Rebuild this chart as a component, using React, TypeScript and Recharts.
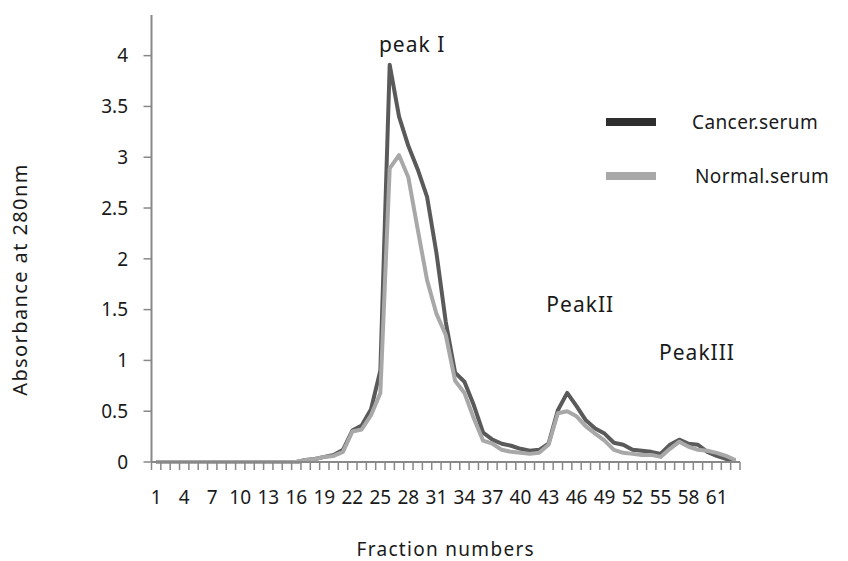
import React from 'react';
import { LineChart, Line, XAxis, YAxis, Legend, ReferenceDot, Label } from 'recharts';

// fraction numbers 1..63
const fractions = Array.from({ length: 63 }, (_, i) => i + 1);

// absorbance at 280nm
const cancerSerum = [
  0, 0, 0, 0, 0, 0, 0, 0, 0, 0,
  0, 0, 0, 0, 0, 0, 0.02, 0.03, 0.05, 0.07,
  0.12, 0.31, 0.36, 0.52, 0.9, 3.91, 3.4, 3.11, 2.88, 2.61,
  2.06, 1.38, 0.88, 0.79, 0.56, 0.29, 0.22, 0.18, 0.16, 0.13,
  0.11, 0.12, 0.18, 0.51, 0.68, 0.55, 0.41, 0.33, 0.28, 0.19,
  0.17, 0.12, 0.11, 0.1, 0.08, 0.17, 0.22, 0.18, 0.17, 0.1,
  0.06, 0.03, 0.01,
];

const normalSerum = [
  0, 0, 0, 0, 0, 0, 0, 0, 0, 0,
  0, 0, 0, 0, 0, 0, 0.02, 0.03, 0.05, 0.06,
  0.1, 0.3, 0.32, 0.46, 0.68, 2.89, 3.02, 2.8, 2.29, 1.79,
  1.46, 1.25, 0.8, 0.68, 0.43, 0.21, 0.18, 0.12, 0.1, 0.09,
  0.08, 0.09, 0.17, 0.48, 0.5, 0.45, 0.35, 0.28, 0.21, 0.12,
  0.09, 0.08, 0.07, 0.07, 0.05, 0.13, 0.2, 0.15, 0.12, 0.11,
  0.09, 0.06, 0.02,
];

// tick marks sit between categories, labels every 3rd fraction
const xBoundaryTicks = Array.from({ length: 64 }, (_, i) => i + 0.5);
const xLabelEvery = 3;
const yTicks = [0, 0.5, 1, 1.5, 2, 2.5, 3, 3.5, 4];

const peaks = [
  { name: 'peak I', x: 28.4, y: 4.11 },
  { name: 'PeakII', x: 46.4, y: 1.55 },
  { name: 'PeakIII', x: 58.9, y: 1.08 },
];

const series = [
  { key: 'cancer', name: 'Cancer.serum', color: '#5a5a5a', swatch: '#2e2e2e' },
  { key: 'normal', name: 'Normal.serum', color: '#a8a8a8', swatch: '#a8a8a8' },
];

const data = fractions.map((f, i) => ({
  fraction: f,
  cancer: cancerSerum[i],
  normal: normalSerum[i],
}));

const FONT = "'Noto Sans', sans-serif";
const AXIS = '#888888';
const TEXT = '#1a1a1a';

const renderLegend = () => (
  <div style={{ fontFamily: FONT }}>
    {series.map((s) => (
      <div key={s.key} style={{ display: 'flex', alignItems: 'center', height: 54 }}>
        <div style={{ width: 50, height: 8, background: s.swatch }} />
        <span style={{ marginLeft: s.key === 'cancer' ? 36 : 39, fontSize: 19, color: TEXT, letterSpacing: 0.4 }}>{s.name}</span>
      </div>
    ))}
  </div>
);

// label goes in the middle of the category to the right of each boundary tick
const FractionTick = (props: any) => {
  const { x, y, payload, width } = props;
  const cat = payload.value + 0.5;
  if (cat > fractions.length || (cat - 1) % xLabelEvery !== 0) return null;
  const half = width / fractions.length / 2;
  return (
    <text x={x + half} y={y} dy="0.71em" textAnchor="middle" fontFamily={FONT} fontSize={19} fill={TEXT}>
      {cat}
    </text>
  );
};

const renderYTitle = (props: any) => {
  const vb = props.viewBox || { x: 0, y: 0, width: 0, height: 0 };
  const cx = vb.x + 19;
  const cy = vb.y + vb.height / 2 + 41;
  return (
    <text
      x={cx}
      y={cy}
      transform={`rotate(-90, ${cx}, ${cy})`}
      textAnchor="middle"
      dominantBaseline="central"
      fontFamily={FONT}
      fontSize={20}
      letterSpacing={1.4}
      fill={TEXT}
    >
      Absorbance at 280nm
    </text>
  );
};

export default function App() {
  return (
    <div style={{ position: 'absolute', left: 0, top: 0, width: 848, height: 561, background: '#fff' }}>
      <LineChart width={848} height={561} data={data} margin={{ top: 15, right: 108, bottom: 49, left: 0 }}>
        <XAxis
          dataKey="fraction"
          type="number"
          domain={[0.5, 63.5]}
          ticks={xBoundaryTicks}
          interval={0}
          tick={<FractionTick />}
          tickLine={{ stroke: AXIS, strokeWidth: 1.5 }}
          tickSize={8}
          tickMargin={21}
          height={50}
          axisLine={{ stroke: AXIS, strokeWidth: 2 }}
        >
          <Label
            value="Fraction numbers"
            position="bottom"
            offset={31}
            style={{ fontFamily: FONT, fontSize: 19, fill: TEXT, letterSpacing: 1.3 }}
          />
        </XAxis>
        <YAxis
          type="number"
          domain={[0, 4.4]}
          ticks={yTicks}
          interval={0}
          width={151.5}
          tickSize={8}
          tickMargin={15.5}
          tickLine={{ stroke: AXIS, strokeWidth: 1.5 }}
          axisLine={{ stroke: AXIS, strokeWidth: 2 }}
          tick={{ fontFamily: FONT, fontSize: 19, fill: TEXT }}
          tickFormatter={(v: number) => String(v)}
          label={{ content: renderYTitle }}
        />
        <Legend
          layout="horizontal"
          align="center"
          verticalAlign="middle"
          content={renderLegend}
          wrapperStyle={{ top: 95, left: 606, width: 240, height: 108 }}
        />
        {series.map((s) => (
          <Line
            key={s.key}
            type="linear"
            dataKey={s.key}
            name={s.name}
            stroke={s.color}
            strokeWidth={4}
            strokeLinejoin="round"
            dot={false}
            activeDot={false}
            isAnimationActive={false}
          />
        ))}
        {peaks.map((p) => (
          <ReferenceDot
            key={p.name}
            x={p.x}
            y={p.y}
            r={0}
            fill="none"
            stroke="none"
            label={{
              value: p.name,
              position: 'center',
              style: { fontFamily: FONT, fontSize: 21, fill: TEXT, letterSpacing: 1 },
            }}
          />
        ))}
      </LineChart>
    </div>
  );
}
